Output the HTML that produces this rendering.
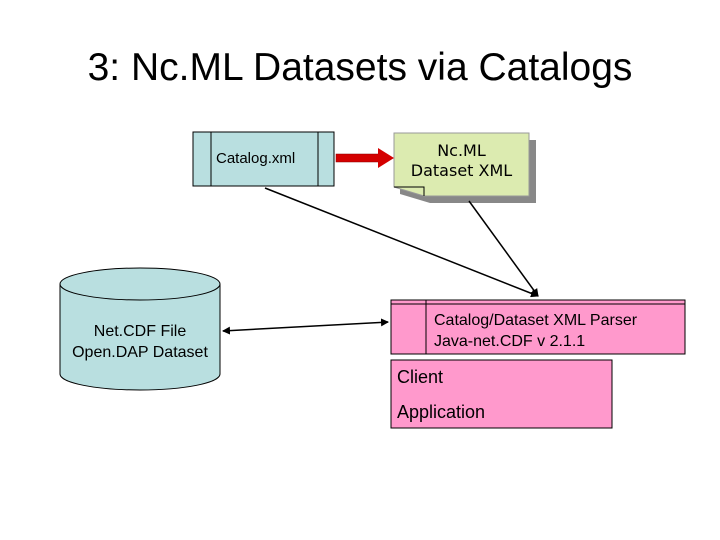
<!DOCTYPE html>
<html><head><style>
body{margin:0;width:720px;height:540px;background:#fff;position:relative;overflow:hidden;font-family:"Liberation Sans",sans-serif}
.t{position:absolute;white-space:nowrap}
</style></head><body>
<div class="t" style="left:0;width:720px;text-align:center;top:46px;font-size:39px;">3: Nc.ML Datasets via Catalogs</div>
<svg width="720" height="540" style="position:absolute;left:0;top:0">
<defs><marker id="a" markerWidth="8" markerHeight="8" refX="7" refY="4" orient="auto-start-reverse" markerUnits="userSpaceOnUse"><path d="M0,0L8,4L0,8z" fill="#000"/></marker></defs>
<rect x="193" y="132" width="141" height="54" fill="#b9dfe0" stroke="#000"/>
<line x1="211" y1="132" x2="211" y2="186" stroke="#000"/>
<line x1="318" y1="132" x2="318" y2="186" stroke="#000"/>
<path d="M400,140 H536 V203 H430 L400,194 Z" fill="#888"/>
<path d="M394,133 H529 V196 H424 L394,187 Z" fill="#dcebb0" stroke="#999"/>
<path d="M394,187 L424,187 L424,196" fill="none" stroke="#000"/>
<rect x="336" y="154" width="44" height="8" fill="#d40000" stroke="#800" stroke-width="0.5"/>
<path d="M378,148 L394,158 L378,168 Z" fill="#d40000"/>
<path d="M60,284 V374 A80,16 0 0 0 220,374 V284" fill="#b9dfe0" stroke="#000"/>
<ellipse cx="140" cy="284" rx="80" ry="16" fill="#b9dfe0" stroke="#000"/>
<line x1="265" y1="188" x2="538" y2="296" stroke="#000" stroke-width="1.5" marker-end="url(#a)"/>
<line x1="469" y1="201" x2="538" y2="296" stroke="#000" stroke-width="1.5" marker-end="url(#a)"/>
<line x1="223" y1="331" x2="388" y2="322" stroke="#000" stroke-width="1.5" marker-end="url(#a)" marker-start="url(#a)"/>
<rect x="391" y="300" width="294" height="54" fill="#ff99cc" stroke="#000"/>
<line x1="391" y1="304" x2="685" y2="304" stroke="#000"/>
<line x1="426" y1="300" x2="426" y2="354" stroke="#000"/>
<rect x="391" y="360" width="221" height="68" fill="#ff99cc" stroke="#000"/>
</svg>
<div class="t" style="left:216px;top:150px;font-size:15px">Catalog.xml</div>
<div class="t" style="left:394px;width:135px;text-align:center;top:141px;font-size:16px;line-height:20px;font-family:'DejaVu Sans',sans-serif">Nc.ML<br>Dataset XML</div>
<div class="t" style="left:60px;width:160px;text-align:center;top:321px;font-size:16px;line-height:21px">Net.CDF File<br>Open.DAP Dataset</div>
<div class="t" style="left:434px;top:310px;font-size:16px;line-height:21px">Catalog/Dataset XML Parser<br>Java-net.CDF v 2.1.1</div>
<div class="t" style="left:397px;top:360px;font-size:18px;line-height:35px">Client<br>Application</div>
</body></html>
